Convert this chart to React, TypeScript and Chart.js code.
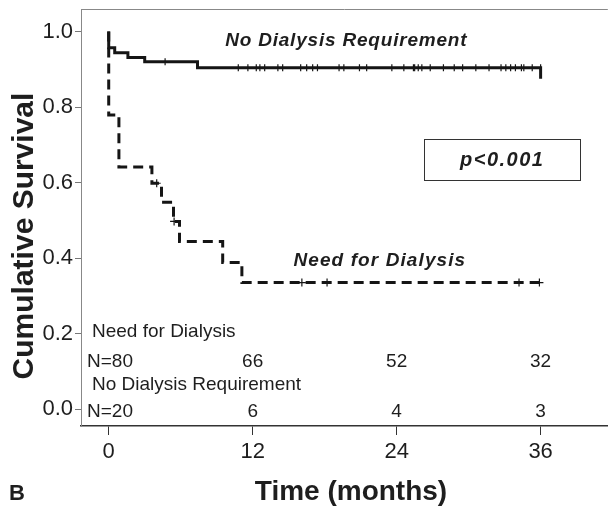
import { useEffect, useRef } from 'react';
import { Chart, registerables } from 'chart.js';

Chart.register(...registerables);

const FONT = "'Liberation Sans', Arial, Helvetica, sans-serif";

// Kaplan-Meier curves: event times (months) and survival after each event
const noDialysisTimes = [0, 0.5, 1.6, 3.0, 7.4, 36];
const noDialysisSurv = [0.957, 0.944, 0.931, 0.92, 0.904, 0.875];
const noDialysisCensor = [4.7, 10.8, 11.6, 12.3, 12.6, 13.0, 14.1, 14.5, 16.0, 16.5, 17.0, 17.4, 19.2, 19.6, 20.9, 21.5, 23.6, 24.6, 25.4, 25.5, 25.8, 26.1, 26.8, 27.9, 28.8, 29.5, 30.6, 31.7, 32.7, 33.1, 33.5, 33.9, 34.4, 34.6, 35.3, 36];

const needDialysisTimes = [0, 0.85, 3.6, 4.4, 5.4, 5.9, 9.5, 11.1, 35.9];
const needDialysisSurv = [0.779, 0.641, 0.598, 0.548, 0.497, 0.444, 0.388, 0.335, 0.335];
const needDialysisCensor = [4.0, 5.45, 16.1, 18.2, 34.2, 35.9];

// Axis ticks
const xTicks = [0, 12, 24, 36];
const yTicks = [0, 0.2, 0.4, 0.6, 0.8, 1.0];

// Number at risk table
const riskTimes = [0, 12, 24, 36];
const riskRow1Label = 'Need for Dialysis';
const riskRow1 = ['N=80', '66', '52', '32'];
const riskRow2Label = 'No Dialysis Requirement';
const riskRow2 = ['N=20', '6', '4', '3'];

function kmPoints(times: number[], surv: number[]) {
  const pts = [{ x: 0, y: 1 }];
  times.forEach((t, i) => pts.push({ x: t, y: surv[i] }));
  return pts;
}

function survAt(times: number[], surv: number[], t: number) {
  let s = 1;
  for (let i = 0; i < times.length; i++) {
    if (times[i] <= t) s = surv[i];
  }
  return s;
}

const textPlugin = {
  id: 'kmText',
  afterDraw(chart: any) {
    const { ctx, chartArea, scales } = chart;
    const xs = scales.x;
    const ys = scales.y;
    ctx.save();
    // top frame line
    ctx.strokeStyle = '#888';
    ctx.lineWidth = 1;
    ctx.beginPath();
    ctx.moveTo(chartArea.left, chartArea.top + 0.5);
    ctx.lineTo(chartArea.right, chartArea.top + 0.5);
    ctx.stroke();

    ctx.fillStyle = '#1e1e1e';
    const setSpacing = (v: string) => {
      try { (ctx as any).letterSpacing = v; } catch (e) { /* ignore */ }
    };

    // curve labels
    ctx.textAlign = 'center';
    ctx.textBaseline = 'middle';
    ctx.font = `italic bold 19px ${FONT}`;
    setSpacing('0.8px');
    ctx.fillText('No Dialysis Requirement', xs.getPixelForValue(19.8), ys.getPixelForValue(0.975));
    setSpacing('1.1px');
    ctx.fillText('Need for Dialysis', xs.getPixelForValue(22.6), ys.getPixelForValue(0.393));

    // p-value box
    const bx1 = xs.getPixelForValue(26.3);
    const bx2 = xs.getPixelForValue(39.3);
    const by1 = ys.getPixelForValue(0.715);
    const by2 = ys.getPixelForValue(0.607);
    ctx.strokeStyle = '#333';
    ctx.lineWidth = 1;
    ctx.strokeRect(Math.round(bx1) + 0.5, Math.round(by1) + 0.5, Math.round(bx2 - bx1), Math.round(by2 - by1));
    ctx.font = `italic bold 20px ${FONT}`;
    setSpacing('1.5px');
    ctx.fillText('p<0.001', (bx1 + bx2) / 2, (by1 + by2) / 2 + 1);
    setSpacing('0px');

    // number-at-risk table
    ctx.font = `19px ${FONT}`;
    ctx.textAlign = 'left';
    const b = chartArea.bottom;
    ctx.fillText(riskRow1Label, 92, b - 94);
    ctx.fillText(riskRow2Label, 92, b - 41);
    riskTimes.forEach((t, i) => {
      if (i === 0) {
        ctx.textAlign = 'left';
        ctx.fillText(riskRow1[i], 87, b - 64);
        ctx.fillText(riskRow2[i], 87, b - 14);
      } else {
        ctx.textAlign = 'center';
        const px = xs.getPixelForValue(t);
        ctx.fillText(riskRow1[i], px, b - 64);
        ctx.fillText(riskRow2[i], px, b - 14);
      }
    });

    // axis titles
    ctx.textAlign = 'center';
    ctx.font = `bold 28px ${FONT}`;
    ctx.fillText('Time (months)', 351, 492);
    ctx.font = `bold 22px ${FONT}`;
    ctx.textAlign = 'left';
    ctx.fillText('B', 9, 494);

    ctx.save();
    ctx.translate(25, 236);
    ctx.rotate(-Math.PI / 2);
    ctx.textAlign = 'center';
    ctx.font = `bold 30px ${FONT}`;
    ctx.fillText('Cumulative Survival', 0, 0);
    ctx.restore();

    ctx.restore();
  },
};

export default function App() {
  const ref = useRef<HTMLCanvasElement | null>(null);

  useEffect(() => {
    if (!ref.current) return;
    const chart = new Chart(ref.current, {
      type: 'line',
      data: {
        datasets: [
          {
            label: 'No Dialysis Requirement',
            data: kmPoints(noDialysisTimes, noDialysisSurv),
            borderColor: '#151515',
            borderWidth: 3,
            stepped: true,
            pointRadius: 0,
            fill: false,
          },
          {
            label: 'Need for Dialysis',
            data: kmPoints(needDialysisTimes, needDialysisSurv),
            borderColor: '#151515',
            borderWidth: 3,
            borderDash: [10, 6],
            stepped: true,
            pointRadius: 0,
            fill: false,
          },
          {
            label: 'censor1',
            data: noDialysisCensor.map((t) => ({ x: t, y: survAt(noDialysisTimes, noDialysisSurv, t - 1e-9) })),
            showLine: false,
            pointStyle: 'line',
            pointRotation: 90,
            pointRadius: 3.5,
            pointBorderWidth: 1.2,
            pointBorderColor: '#151515',
            pointBackgroundColor: '#151515',
          },
          {
            label: 'censor2',
            data: needDialysisCensor.map((t) => ({ x: t, y: survAt(needDialysisTimes, needDialysisSurv, t) })),
            showLine: false,
            pointStyle: 'cross',
            pointRadius: 4,
            pointBorderWidth: 1.2,
            pointBorderColor: '#151515',
            pointBackgroundColor: '#151515',
          },
        ],
      },
      options: {
        animation: false,
        responsive: false,
        devicePixelRatio: 1,
        layout: { padding: { top: 9, left: 0, right: 0, bottom: 0 } },
        plugins: { legend: { display: false }, tooltip: { enabled: false } },
        scales: {
          x: {
            type: 'linear',
            min: -2.31,
            max: 41.6,
            afterBuildTicks: (s: any) => {
              s.ticks = xTicks.map((value) => ({ value }));
            },
            afterFit: (s: any) => {
              s.height = 82;
              s.paddingLeft = 0;
              s.paddingRight = 0;
            },
            grid: { drawOnChartArea: false, drawTicks: true, tickLength: 9, color: '#333', lineWidth: 1 },
            border: { display: true, color: '#333', width: 1.5 },
            ticks: {
              font: { family: FONT, size: 22 },
              color: '#1e1e1e',
              padding: 4,
              maxRotation: 0,
              autoSkip: false,
              callback: (v: any) => String(v),
            },
          },
          y: {
            type: 'linear',
            min: -0.045,
            max: 1.0596,
            afterBuildTicks: (s: any) => {
              s.ticks = yTicks.map((value) => ({ value }));
            },
            afterFit: (s: any) => {
              s.width = 81;
              s.paddingTop = 0;
              s.paddingBottom = 0;
            },
            grid: { drawOnChartArea: false, drawTicks: true, tickLength: 6, color: '#777', lineWidth: 1 },
            border: { display: true, color: '#888', width: 1 },
            ticks: {
              font: { family: FONT, size: 22 },
              color: '#1e1e1e',
              padding: 2,
              autoSkip: false,
              callback: (v: any) => Number(v).toFixed(1),
            },
          },
        },
      },
      plugins: [textPlugin],
    } as any);
    return () => chart.destroy();
  }, []);

  return (
    <div style={{ position: 'absolute', left: 0, top: 0, width: 613, height: 508, background: '#fff' }}>
      <canvas ref={ref} width={613} height={508} style={{ display: 'block', width: 613, height: 508 }} />
    </div>
  );
}
